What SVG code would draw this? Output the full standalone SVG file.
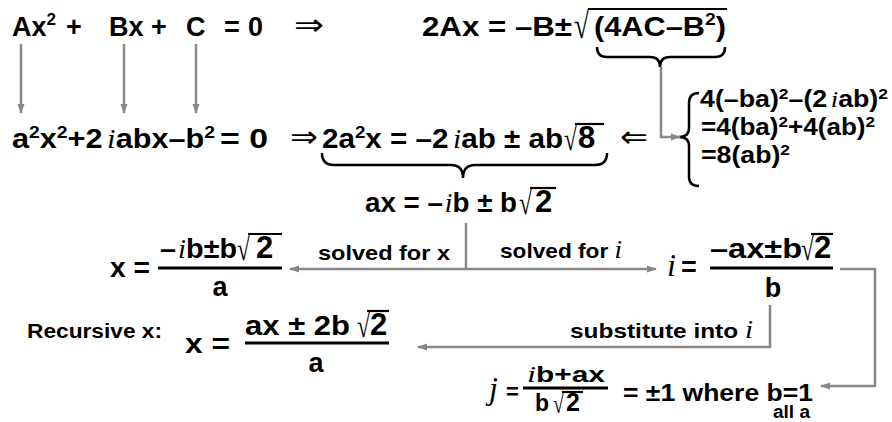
<svg xmlns="http://www.w3.org/2000/svg" width="892" height="422" viewBox="0 0 892 422">
<defs>
<style>
text{font-family:"Liberation Sans",Arial,sans-serif;font-weight:bold;fill:#000}
.m{font-size:27px}
.d{font-size:23px}
.i{font-family:"Liberation Serif","Times New Roman",serif;font-style:italic;font-weight:normal}
.sym{font-family:"DejaVu Sans",sans-serif;font-weight:normal;font-size:30px}
.rad{font-family:"Liberation Serif","Times New Roman",serif;font-weight:normal}
.big{font-size:31px}
.c{fill:none;stroke:#888;stroke-width:2.5}
.br{fill:none;stroke:#000;stroke-width:2.5}
.bar{stroke:#000;stroke-width:3}
.ov{stroke:#000;stroke-width:2.2}
</style>
<marker id="ah" markerWidth="10" markerHeight="8" refX="9" refY="4" orient="auto" markerUnits="userSpaceOnUse"><path d="M0,0.5 L10,4 L0,7.5 z" fill="#888"/></marker>
</defs>

<g id="eq-quadratic">
<text class="m" x="12" y="36" font-size="28">Ax<tspan font-size="17" dy="-11">2</tspan></text>
<text class="m" x="66" y="36" font-size="28">+</text>
<text class="m" x="109" y="36" font-size="28">Bx</text>
<text class="m" x="151" y="36" font-size="28">+</text>
<text class="m" x="186" y="36" font-size="28">C</text>
<text class="m" x="224" y="36" font-size="28">=</text>
<text class="m" x="248" y="36" font-size="28">0</text>
</g>

<g id="implies-1"><text class="sym" x="294" y="35" textLength="30" lengthAdjust="spacingAndGlyphs">⇒</text></g>

<g id="eq-solution">
<text class="m" x="422" y="36" font-size="28" textLength="150" lengthAdjust="spacingAndGlyphs">2Ax = –B±</text>
<text class="rad" x="574" y="38" font-size="37" textLength="15" lengthAdjust="spacingAndGlyphs">√</text>
<text class="m" x="594" y="36" font-size="28" textLength="132" lengthAdjust="spacingAndGlyphs">(4AC–B<tspan font-size="17" dy="-11">2</tspan><tspan dy="11">)</tspan></text>
<line class="ov" x1="588" y1="9" x2="727" y2="9"/>
<path class="br" d="M597,47 Q597,57 607,57 L650,57 Q660,57 660,67 Q660,57 670,57 L715,57 Q725,57 725,47"/>
</g>

<g id="eq-substituted">
<text class="m" x="12" y="148" textLength="203" lengthAdjust="spacingAndGlyphs">a<tspan font-size="17" dy="-10">2</tspan><tspan dy="10">x</tspan><tspan font-size="17" dy="-10">2</tspan><tspan dy="10">+2</tspan><tspan class="i" dx="4">i</tspan><tspan>abx–b</tspan><tspan font-size="17" dy="-10">2</tspan></text>
<text class="m" x="220" y="148" textLength="48" lengthAdjust="spacingAndGlyphs">= 0</text>
</g>

<g id="implies-2"><text class="sym" x="290" y="147" textLength="28" lengthAdjust="spacingAndGlyphs">⇒</text></g>

<g id="eq-2a2x">
<text class="m" x="322" y="148" textLength="241" lengthAdjust="spacingAndGlyphs">2a<tspan font-size="17" dy="-10">2</tspan><tspan dy="10">x = –2</tspan><tspan class="i" dx="4">i</tspan><tspan>ab ± ab</tspan></text>
<text class="rad" x="564" y="150" font-size="33" textLength="13" lengthAdjust="spacingAndGlyphs">√</text>
<text class="big" x="578" y="148">8</text>
<line class="ov" x1="575" y1="124" x2="604" y2="124"/>
<path class="br" d="M322,153 Q322,165 334,165 L451,165 Q463,165 463,178 Q463,165 475,165 L595,165 Q607,165 607,153"/>
</g>

<g id="implied-by"><text class="sym" x="620" y="147" textLength="28" lengthAdjust="spacingAndGlyphs">⇐</text></g>

<g id="eq-discriminant">
<path class="br" d="M699,93 Q689,93 689,103 L689,128 Q689,137 679,137 Q689,137 689,146 L689,177 Q689,186 699,186"/>
<text class="d" x="700" y="107" textLength="188" lengthAdjust="spacingAndGlyphs">4(–ba)<tspan font-size="15" dy="-8">2</tspan><tspan dy="8">–(2</tspan><tspan class="i" dx="3">i</tspan><tspan>ab)</tspan><tspan font-size="15" dy="-8">2</tspan></text>
<text class="d" x="701" y="135" textLength="174" lengthAdjust="spacingAndGlyphs">=4(ba)<tspan font-size="15" dy="-8">2</tspan><tspan dy="8">+4(ab)</tspan><tspan font-size="15" dy="-8">2</tspan></text>
<text class="d" x="701" y="163" textLength="89" lengthAdjust="spacingAndGlyphs">=8(ab)<tspan font-size="15" dy="-8">2</tspan></text>
</g>

<g id="eq-ax">
<text class="m" x="365" y="212" textLength="152" lengthAdjust="spacingAndGlyphs">ax = –<tspan class="i" dx="2">i</tspan><tspan>b ± b</tspan></text>
<text class="rad" x="519" y="214" font-size="33" textLength="13" lengthAdjust="spacingAndGlyphs">√</text>
<text class="big" x="535" y="212">2</text>
<line class="ov" x1="530" y1="188" x2="556" y2="188"/>
</g>

<g id="eq-x">
<text class="m" x="110" y="277" textLength="40" lengthAdjust="spacingAndGlyphs">x =</text>
<text class="m" x="160" y="258" textLength="77" lengthAdjust="spacingAndGlyphs">–<tspan class="i" dx="2">i</tspan><tspan>b±b</tspan></text>
<text class="rad" x="237" y="260" font-size="33" textLength="13" lengthAdjust="spacingAndGlyphs">√</text>
<text class="big" x="256" y="258">2</text>
<line class="ov" x1="248" y1="234" x2="282" y2="234"/>
<line class="bar" x1="158" y1="268" x2="282" y2="268"/>
<text class="m" x="220" y="296" text-anchor="middle">a</text>
</g>

<g id="eq-i">
<text class="i" x="667" y="276" font-size="32">i</text>
<text class="m" x="681" y="276">=</text>
<text class="m" x="710" y="258" textLength="92" lengthAdjust="spacingAndGlyphs">–ax±b</text>
<text class="rad" x="801" y="260" font-size="33" textLength="13" lengthAdjust="spacingAndGlyphs">√</text>
<text class="big" x="814" y="258">2</text>
<line class="ov" x1="811" y1="234" x2="833" y2="234"/>
<line class="bar" x1="710" y1="268" x2="833" y2="268"/>
<text class="m" x="773" y="297" text-anchor="middle">b</text>
</g>

<g id="eq-recursive">
<text x="27" y="338" font-size="20" textLength="135" lengthAdjust="spacingAndGlyphs">Recursive x:</text>
<text class="m" x="185" y="353" textLength="45" lengthAdjust="spacingAndGlyphs">x =</text>
<text class="m" x="245" y="335" textLength="105" lengthAdjust="spacingAndGlyphs">ax ± 2b</text>
<text class="rad" x="357" y="337" font-size="33" textLength="13" lengthAdjust="spacingAndGlyphs">√</text>
<text class="big" x="370" y="335">2</text>
<line class="ov" x1="367" y1="311" x2="389" y2="311"/>
<line class="bar" x1="245" y1="343" x2="389" y2="343"/>
<text class="m" x="316" y="372" text-anchor="middle">a</text>
</g>

<g id="eq-j">
<text class="i" x="489" y="399" font-size="32">j</text>
<text x="506" y="399" font-size="22">=</text>
<text x="527" y="382" font-size="22" textLength="78" lengthAdjust="spacingAndGlyphs"><tspan class="i" font-size="24">i</tspan><tspan>b+ax</tspan></text>
<line class="bar" x1="523" y1="388" x2="608" y2="388" stroke-width="2.5"/>
<text x="535" y="411" font-size="23">b</text>
<text class="rad" x="553" y="413" font-size="27" textLength="11" lengthAdjust="spacingAndGlyphs">√</text>
<text x="566" y="411" font-size="25">2</text>
<line class="ov" x1="562" y1="392" x2="583" y2="392" stroke-width="1.8"/>
<text x="623" y="401" font-size="23" textLength="190" lengthAdjust="spacingAndGlyphs">= ±1 where b=1</text>
<text x="773" y="418" font-size="18" textLength="37" lengthAdjust="spacingAndGlyphs">all a</text>
</g>

<g id="labels">
<text x="318" y="260" font-size="21" textLength="132" lengthAdjust="spacingAndGlyphs">solved for x</text>
<text x="500" y="258" font-size="21" textLength="122" lengthAdjust="spacingAndGlyphs">solved for <tspan class="i" font-size="25">i</tspan></text>
<text x="570" y="338" font-size="21" textLength="183" lengthAdjust="spacingAndGlyphs">substitute into <tspan class="i" font-size="25">i</tspan></text>
</g>

<g id="connectors">
<line class="c" x1="21" y1="44" x2="21" y2="113" marker-end="url(#ah)"/>
<line class="c" x1="124" y1="44" x2="124" y2="113" marker-end="url(#ah)"/>
<line class="c" x1="196" y1="44" x2="196" y2="113" marker-end="url(#ah)"/>
<polyline class="c" points="661,67 661,137 680,137" marker-end="url(#ah)"/>
<line class="c" x1="466" y1="223" x2="466" y2="269"/>
<line class="c" x1="466" y1="269" x2="290" y2="269" marker-end="url(#ah)"/>
<line class="c" x1="466" y1="269" x2="656" y2="269" marker-end="url(#ah)"/>
<polyline class="c" points="840,269 875,269 875,386 821,386" marker-end="url(#ah)"/>
<polyline class="c" points="770,305 770,347 418,347" marker-end="url(#ah)"/>
</g>
</svg>
